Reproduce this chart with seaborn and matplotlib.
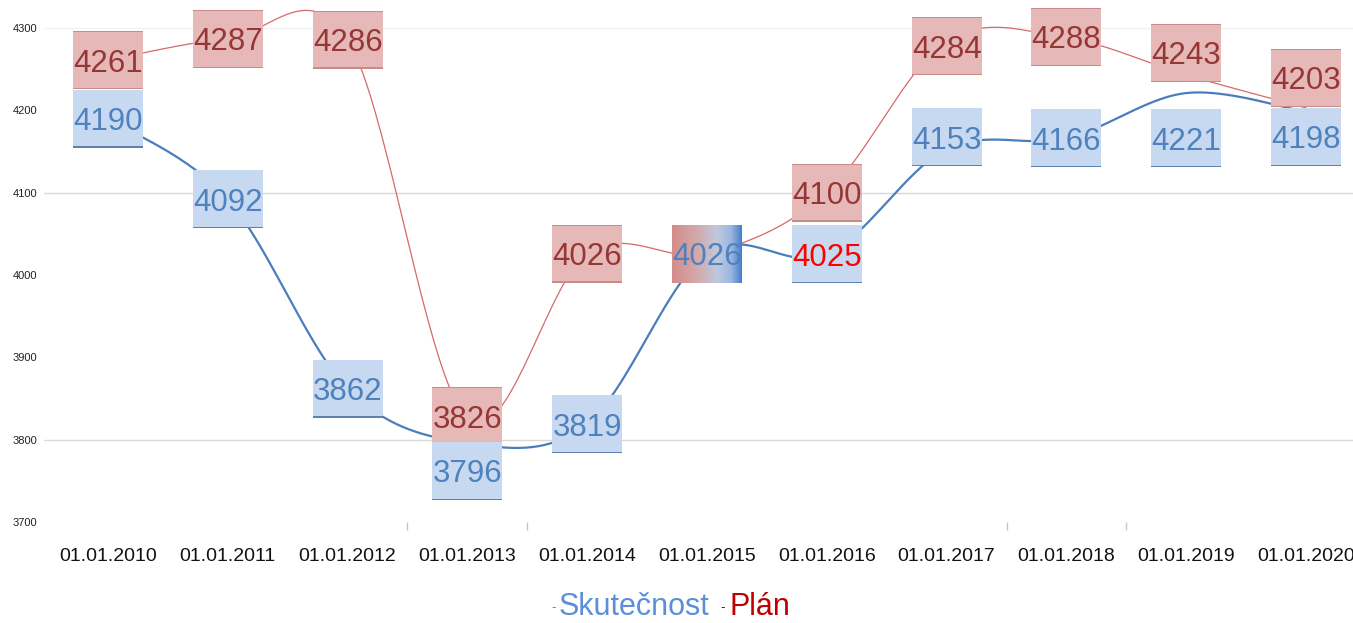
import numpy as np
import pandas as pd
import matplotlib.pyplot as plt
import seaborn as sns
from matplotlib.patches import Rectangle
from matplotlib.transforms import IdentityTransform
from matplotlib.colors import LinearSegmentedColormap

# Data
dates = ["01.01.2010", "01.01.2011", "01.01.2012", "01.01.2013", "01.01.2014", "01.01.2015",
         "01.01.2016", "01.01.2017", "01.01.2018", "01.01.2019", "01.01.2020"]
actual = [4190, 4092, 3862, 3796, 3819, 4026, 4025, 4153, 4166, 4221, 4198]
plan = [4261, 4287, 4286, 3826, 4026, 4026, 4100, 4284, 4288, 4243, 4203]

# label shifts (pixels, up positive) to keep boxes apart
actual_shift = [0, 0, 0, -28, 0, 0, 0, 12, 0, -45, -25]
plan_shift = [0, 0, 0, 2, 0, 0, 0, -5, 1, 22, 30]

BLUE_LINE = "#4a7ebb"
RED_LINE = "#d46a6a"
BLUE_BOX = "#c6d9f1"
RED_BOX = "#e6b9b8"
BLUE_TXT = "#4f81bd"
RED_TXT = "#953735"

sns.set_theme(style="white")
plt.rcParams["font.family"] = ["Liberation Sans", "DejaVu Sans"]


def smooth(xs, ys, n=40):
    # Bezier smoothing like office charts (control points at 1/6 of neighbour chord)
    P = np.column_stack([xs, ys]).astype(float)
    Pm = np.vstack([P[0], P, P[-1]])
    out = []
    for i in range(len(P) - 1):
        p0, p1, p2, p3 = Pm[i], Pm[i + 1], Pm[i + 2], Pm[i + 3]
        c1 = p1 + (p2 - p0) / 6
        c2 = p2 - (p3 - p1) / 6
        t = np.linspace(0, 1, n)[:, None]
        seg = (1 - t) ** 3 * p1 + 3 * (1 - t) ** 2 * t * c1 + 3 * (1 - t) * t ** 2 * c2 + t ** 3 * p2
        out.append(seg if i == 0 else seg[1:])
    return np.vstack(out)


W, H = 1353, 623
fig = plt.figure(figsize=(W / 100, H / 100), dpi=100)
ax = fig.add_axes([44 / W, (H - 522) / H, (W - 44) / W, 494 / H])

xs = np.arange(len(dates))

# grid lines
ax.axhline(3800, color="#d9d9d9", lw=1, zorder=1)
ax.axhline(4100, color="#d9d9d9", lw=1, zorder=1)
ax.axhline(4300, color="#f2f2f2", lw=1, zorder=1)

red_curve = smooth(xs, plan)
blue_curve = smooth(xs, actual)
df_red = pd.DataFrame({"x": red_curve[:, 0], "y": red_curve[:, 1]})
df_blue = pd.DataFrame({"x": blue_curve[:, 0], "y": blue_curve[:, 1]})
sns.lineplot(data=df_red, x="x", y="y", sort=False, estimator=None, ax=ax,
             color=RED_LINE, lw=0.9, zorder=2)
sns.lineplot(data=df_blue, x="x", y="y", sort=False, estimator=None, ax=ax,
             color=BLUE_LINE, lw=1.6, zorder=2)
for ln in ax.lines:
    ln.set_clip_on(False)

ax.set_xlim(-0.534, 10.392)
ax.set_ylim(3700, 4300)
ax.set_xlabel("")
ax.set_ylabel("")

BW, BH = 70, 58
ident = IdentityTransform()


def box(i, v, shift, fill, edge, top_edge=False):
    px, py = ax.transData.transform((i, v))
    py += shift
    ax.add_patch(Rectangle((px - BW / 2, py - BH / 2), BW, BH, transform=ident,
                           facecolor=fill, edgecolor="none", zorder=3, clip_on=False))
    ax.add_patch(Rectangle((px - BW / 2, py - BH / 2), BW, 1.2, transform=ident,
                           facecolor=edge, edgecolor="none", zorder=3, clip_on=False))
    if top_edge:
        ax.add_patch(Rectangle((px - BW / 2, py + BH / 2 - 1.2), BW, 1.2, transform=ident,
                               facecolor=edge, edgecolor="none", zorder=3, clip_on=False))


def label(i, v, shift, color):
    ax.annotate(str(v), xy=(i, v), xytext=(0, shift), textcoords="offset pixels",
                ha="center", va="center_baseline", fontsize=22.5, color=color, zorder=4,
                annotation_clip=False)


for i, v in enumerate(plan):
    if i == 5:
        continue
    box(i, v, plan_shift[i], RED_BOX, "#c98a88", top_edge=True)
    label(i, v, plan_shift[i], RED_TXT)

grad = LinearSegmentedColormap.from_list(
    "g", [(0, "#d38c8a"), (0.35, "#d3a8aa"), (0.65, "#bfc8de"), (0.85, "#9ab6e0"), (1, "#4a7fcb")])

for i, v in enumerate(actual):
    if i == 5:
        px, py = ax.transData.transform((i, v))
        py += actual_shift[i]
        for k in range(BW):
            ax.add_patch(Rectangle((px - BW / 2 + k, py - BH / 2), 1.05, BH, transform=ident,
                                   facecolor=grad(k / (BW - 1)), edgecolor="none",
                                   zorder=3, clip_on=False))
        label(i, v, actual_shift[i], BLUE_TXT)
        continue
    box(i, v, actual_shift[i], BLUE_BOX, "#5f7fae")
    label(i, v, actual_shift[i], "#ff0000" if i == 6 else BLUE_TXT)

# axes styling
for s in ax.spines.values():
    s.set_visible(False)
ax.set_yticks([3700, 3800, 3900, 4000, 4100, 4200, 4300])
ax.set_yticklabels([str(t) for t in range(3700, 4301, 100)])
ax.tick_params(axis="y", length=0, pad=5, labelsize=8, labelcolor="#222222")
ax.set_xticks(xs)
ax.set_xticklabels(dates)
ax.tick_params(axis="x", which="major", length=0, pad=19, labelsize=14, labelcolor="#111111")
ax.set_xticks([2.5, 3.5, 7.5, 8.5], minor=True)
ax.tick_params(axis="x", which="minor", bottom=True, length=6, width=1,
               color="#c8c8c8", direction="out")
ax.set_facecolor("white")

# legend
fig.text(551 / W, 1 - 607 / H, "-", color="#5b8fd8", fontsize=10, va="center", ha="left")
fig.text(559 / W, 1 - 607 / H, "Skutečnost", color="#5b8fd8", fontsize=22, va="center", ha="left")
fig.text(720 / W, 1 - 607 / H, "-", color="#c00000", fontsize=10, va="center", ha="left")
fig.text(730 / W, 1 - 607 / H, "Plán", color="#c00000", fontsize=22, va="center", ha="left")

fig.savefig("out.png", dpi=100, facecolor="white")
